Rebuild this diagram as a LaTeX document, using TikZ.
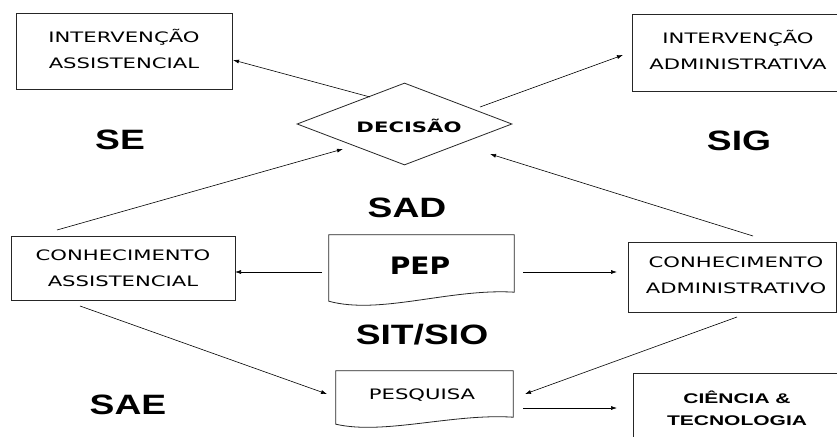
\documentclass[tikz,border=0pt]{standalone}
\usepackage{fontspec}
\usetikzlibrary{arrows.meta,shapes.geometric,calc}
\newfontfamily\boxfont[FakeStretch=1.47]{DejaVu Sans}
\newfontfamily\pepfont[FakeStretch=1.17]{DejaVu Sans}
\newfontfamily\labfont[FakeStretch=1.33]{Liberation Sans}
\newfontfamily\ctfont[FakeStretch=1.5]{Liberation Sans}
\begin{document}
\begin{tikzpicture}[x=1pt,y=-1pt,
  box/.style={draw=black!85, line width=0.8pt, inner sep=0pt},
  shape only/.style={draw=black!85, line width=0.8pt, inner sep=0pt},
  plain/.style={inner sep=0pt},
  txt/.style={inner sep=0pt, align=center, font=\boxfont\fontsize{14.4}{26}\selectfont},
  lab/.style={inner sep=0pt, text height=20pt, text depth=0pt,
    font=\labfont\bfseries\fontsize{28}{30}\selectfont},
  doc/.style={draw=black!85, line width=0.8pt},
  arr/.style={-{Latex[length=6pt,width=4pt]}, line width=0.6pt},
]
\useasboundingbox (0,0) rectangle (837,436);
\fill[white] (0,0) rectangle (837,436);

% boxes
\node[box, minimum width=216pt, minimum height=76pt] (ia) at (124,51) {};
\node[txt] (iatxt) at (124,49) {INTERVENÇÃO\\ASSISTENCIAL};
\node[box, minimum width=212pt, minimum height=77pt] (iad) at (738,52.5) {};
\node[txt] (iadtxt) at (738,49.5) {INTERVENÇÃO\\ADMINISTRATIVA};
\node[box, minimum width=224pt, minimum height=64pt] (ca) at (123,268) {};
\node[txt] (catxt) at (123,268) {CONHECIMENTO\\ASSISTENCIAL};
\node[box, minimum width=208pt, minimum height=70pt] (cad) at (732,277) {};
\node[txt] (cadtxt) at (736,275) {CONHECIMENTO\\ADMINISTRATIVO};
\node[box, minimum width=212pt, minimum height=87pt] (ct) at (739,416.5) {};
\node[inner sep=0pt, align=center, font=\ctfont\bfseries\fontsize{14}{22}\selectfont] (cttxt) at (737,408) {CIÊNCIA \&\\TECNOLOGIA};

% decision diamond
\node[diamond, shape only, minimum width=215pt, minimum height=82pt] (dec) at (404.5,124) {};
\node[inner sep=0pt, font=\boxfont\bfseries\fontsize{14.4}{16}\selectfont] (dectxt) at (409,126) {DECISÃO};

% documents
\node[plain, minimum width=185pt, minimum height=57pt] (pep) at (421.5,263.5) {};
\draw[doc] (pep.north west) -- (pep.north east) -- (pep.south east)
  .. controls ($(pep.south east)+(-64,-4)$) and ($(pep.south west)+(51,23)$) .. ($(pep.south west)+(0,9)$) -- cycle;
\node[inner sep=0pt, font=\pepfont\bfseries\fontsize{24}{26}\selectfont] (peptxt) at (420,266) {PEP};

\node[plain, minimum width=177pt, minimum height=46pt] (pes) at (424.5,394) {};
\draw[doc] (pes.north west) -- (pes.north east) -- (pes.south east)
  .. controls ($(pes.south east)+(-60,-4)$) and ($(pes.south west)+(48,18)$) .. ($(pes.south west)+(0,7)$) -- cycle;
\node[txt] (pestxt) at (422,395) {PESQUISA};

% labels
\node[lab] (se) at (120,139) {SE};
\node[lab] (sig) at (739,140) {SIG};
\node[lab] (sad) at (407,207) {SAD};
\node[lab] (sit) at (422,334) {SIT/SIO};
\node[lab] (sae) at (128,404) {SAE};

% connector end points
\coordinate (a1s) at (370,97);  \coordinate (a1e) at (233,60);
\coordinate (a2s) at (480,107); \coordinate (a2e) at (623,55);
\coordinate (a3s) at (57,230);  \coordinate (a3e) at (343,149);
\coordinate (a4s) at (753,236); \coordinate (a4e) at (490,154);
\coordinate (a5s) at (322,272); \coordinate (a5e) at (235,272);
\coordinate (a6s) at (523,272); \coordinate (a6e) at (617,272);
\coordinate (a7s) at (80,306);  \coordinate (a7e) at (327,394);
\coordinate (a8s) at (737,317); \coordinate (a8e) at (525,394);
\coordinate (a9s) at (523,408); \coordinate (a9e) at (617,408);

\draw[arr] (a1s) -- (a1e);
\draw[arr] (a2s) -- (a2e);
\draw[arr] (a3s) -- (a3e);
\draw[arr] (a4s) -- (a4e);
\draw[arr] (a5s) -- (a5e);
\draw[arr] (a6s) -- (a6e);
\draw[arr] (a7s) -- (a7e);
\draw[arr] (a8s) -- (a8e);
\draw[arr] (a9s) -- (a9e);
\end{tikzpicture}
\end{document}
